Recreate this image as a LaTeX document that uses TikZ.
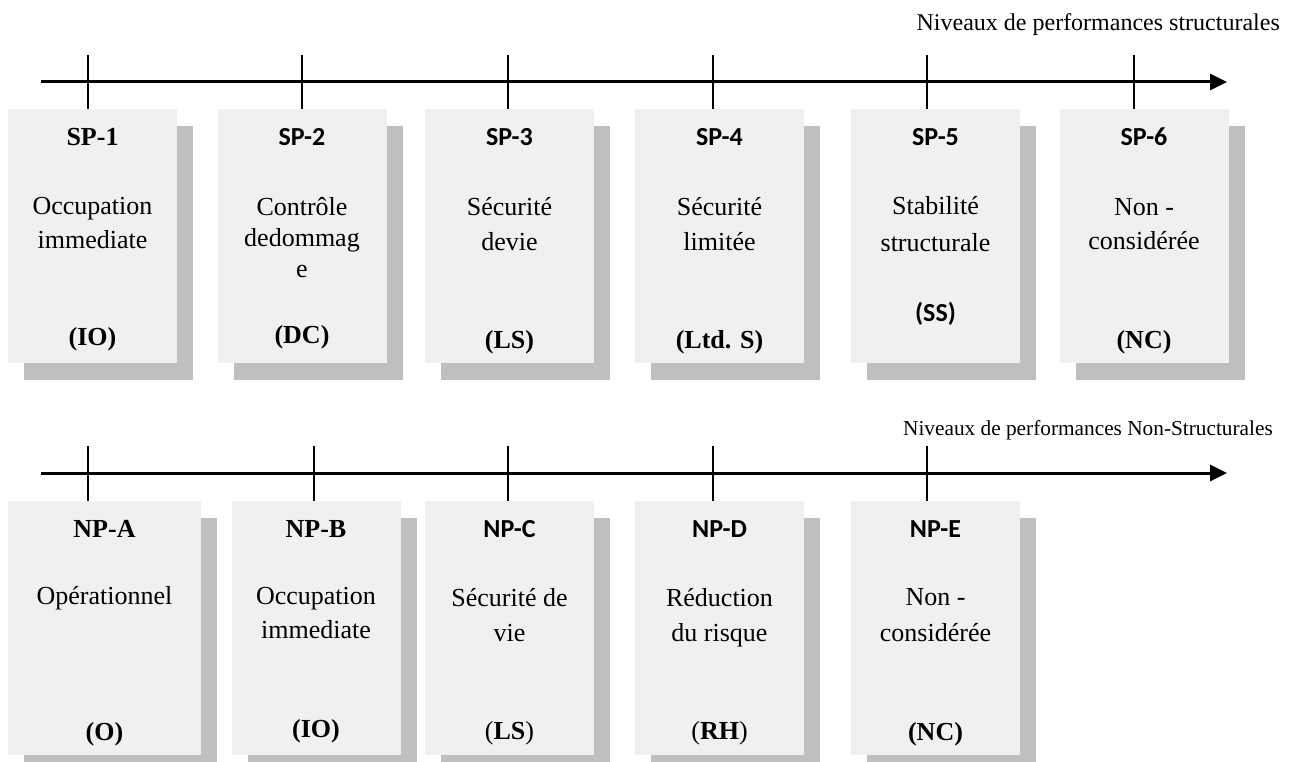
\documentclass[tikz,border=0pt]{standalone}
\usepackage{fontspec}
\setmainfont{Liberation Serif}
\newfontfamily\labelsans{Carlito}
\usetikzlibrary{arrows.meta,shadows}
\definecolor{boxfill}{HTML}{F0F0F0}
\definecolor{boxshadow}{HTML}{BFBFBF}
\begin{document}
\begin{tikzpicture}[x=1pt,y=-1pt,
  levelbox/.style={fill=boxfill, draw=none, inner sep=0pt, anchor=north west,
    minimum width=169pt, minimum height=254pt,
    drop shadow={shadow xshift=16pt, shadow yshift=-17pt, fill=boxshadow, opacity=1}},
  axisline/.style={line width=3pt, -{Triangle[length=17pt,width=16pt]}},
  tickline/.style={line width=2.8pt},
  titleserif/.style={anchor=base, inner sep=0pt, font=\fontsize{26}{30}\selectfont\bfseries},
  titlesans/.style={anchor=base, inner sep=0pt, font=\fontsize{26}{30}\selectfont\labelsans\bfseries},
  desc/.style={anchor=base, inner sep=0pt, align=center, font=\fontsize{26}{34}\selectfont},
  acro/.style={anchor=base, inner sep=0pt, font=\fontsize{26}{30}\selectfont\bfseries},
  acrosans/.style={anchor=base, inner sep=0pt, font=\fontsize{26}{30}\selectfont\labelsans\bfseries},
  axislabel/.style={anchor=base east, inner sep=0pt}]
\useasboundingbox (0,0) rectangle (1295,762);

% ---------- structural performance levels ----------
\node[axislabel, font=\fontsize{24}{28}\selectfont] (labS) at (1280,31) {Niveaux de performances structurales};
\coordinate (sA) at (41,82);
\coordinate (sB) at (1227,82);

\node[levelbox] (sp1) at (8,109) {};
\node[levelbox] (sp2) at (218,109) {};
\node[levelbox] (sp3) at (425,109) {};
\node[levelbox] (sp4) at (635,109) {};
\node[levelbox] (sp5) at (851,109) {};
\node[levelbox] (sp6) at (1060,109) {};

\draw[axisline] (sA) -- (sB);
\foreach \n/\x in {1/88,2/302,3/508,4/713,5/927,6/1134}{
  \coordinate (ts\n) at (\x,55);
  \draw[tickline] (ts\n) -- (ts\n |- sp\n.north);
}

% description nodes are placed by the baseline of their last line
\node[titleserif] (sp1t) at (92.5,146) {SP-1};
\node[desc] (sp1d) at (92.5,248) {Occupation\\immediate};
\node[acro] (sp1a) at (92.5,345) {(IO)};

\node[titlesans] (sp2t) at (302,146) {SP-2};
\node[desc, font=\fontsize{26}{31}\selectfont] (sp2d) at (302,277) {Contrôle\\dedommag\\e};
\node[acro] (sp2a) at (302,343) {(DC)};

\node[titlesans] (sp3t) at (509.5,146) {SP-3};
\node[desc, font=\fontsize{26}{35}\selectfont] (sp3d) at (509.5,250) {Sécurité\\devie};
\node[acro] (sp3a) at (509.5,348) {(LS)};

\node[titlesans] (sp4t) at (719.5,146) {SP-4};
\node[desc, font=\fontsize{26}{35}\selectfont] (sp4d) at (719.5,250) {Sécurité\\limitée};
\node[acro] (sp4a) at (719.5,348) {(Ltd. S)};

\node[titlesans] (sp5t) at (935.5,146) {SP-5};
\node[desc, font=\fontsize{26}{36}\selectfont] (sp5d) at (935.5,251) {Stabilité\\structurale};
\node[acrosans] (sp5a) at (935.5,321) {(SS)};

\node[titlesans] (sp6t) at (1144,146) {SP-6};
\node[desc] (sp6d) at (1144,249) {Non -\\considérée};
\node[acro] (sp6a) at (1144,348) {(NC)};

% ---------- non-structural performance levels ----------
\node[axislabel, font=\fontsize{21.3}{25}\selectfont] (labN) at (1273,435) {Niveaux de performances Non-Structurales};
\coordinate (nA) at (41,473);
\coordinate (nB) at (1227,473);

\node[levelbox, minimum width=193pt] (npa) at (8,501) {};
\node[levelbox] (npb) at (232,501) {};
\node[levelbox] (npc) at (425,501) {};
\node[levelbox] (npd) at (635,501) {};
\node[levelbox] (npe) at (851,501) {};

\draw[axisline] (nA) -- (nB);
\foreach \n/\x in {a/88,b/314,c/508,d/713,e/927}{
  \coordinate (tn\n) at (\x,446);
  \draw[tickline] (tn\n) -- (tn\n |- np\n.north);
}

\node[titleserif] (npat) at (104.5,537) {NP-A};
\node[desc] (npad) at (104.5,604) {Opérationnel};
\node[acro] (npaa) at (104.5,740) {(O)};

\node[titleserif] (npbt) at (316,537) {NP-B};
\node[desc] (npbd) at (316,638) {Occupation\\immediate};
\node[acro] (npba) at (316,737) {(IO)};

\node[titlesans] (npct) at (509.5,537) {NP-C};
\node[desc, font=\fontsize{26}{35}\selectfont] (npcd) at (509.5,641) {Sécurité de\\vie};
\node[desc] (npca) at (509.5,739) {(\textbf{LS})};

\node[titlesans] (npdt) at (719.5,537) {NP-D};
\node[desc, font=\fontsize{26}{35}\selectfont] (npdd) at (719.5,641) {Réduction\\du risque};
\node[desc] (npda) at (719.5,739) {(\textbf{RH})};

\node[titlesans] (npet) at (935.5,537) {NP-E};
\node[desc, font=\fontsize{26}{36}\selectfont] (nped) at (935.5,641) {Non -\\considérée};
\node[acro] (npea) at (935.5,740) {(NC)};
\end{tikzpicture}
\end{document}
